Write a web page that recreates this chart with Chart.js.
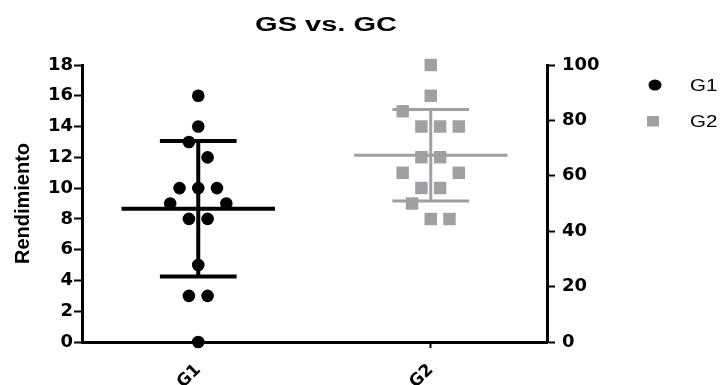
<!DOCTYPE html>
<html>
<head>
<meta charset="utf-8">
<script src="https://cdn.jsdelivr.net/npm/chart.js@4/dist/chart.umd.min.js"></script>
<style>
  html, body { margin:0; padding:0; background:#fff; }
  canvas { display:block; }
</style>
</head>
<body>
<canvas id="c" width="722" height="385"></canvas>
<script>
// data
const CATEGORIES = ["G1", "G2"];
const G1_VALUES = [16, 14, 13, 12, 10, 10, 10, 9, 9, 8, 8, 5, 3, 3, 0];
const G1_SPREAD = [0, 0, -0.5, 0.5, -1, 0, 1, -1.5, 1.5, -0.5, 0.5, 0, -0.5, 0.5, 0];
const G2_VALUES = [100, 88.9, 83.3, 77.8, 77.8, 77.8, 66.7, 66.7, 61.1, 61.1, 55.6, 55.6, 50, 44.4, 44.4];
const G2_SPREAD = [0, 0, -1.5, -0.5, 0.5, 1.5, -0.5, 0.5, -1.5, 1.5, -0.5, 0.5, -1, 0, 1];
const LEFT_TICKS = [0, 2, 4, 6, 8, 10, 12, 14, 16, 18];
const RIGHT_TICKS = [0, 20, 40, 60, 80, 100];

const BLACK = "#000";
const GRAY = "#a0a0a4";
const SANS = "'Liberation Sans', Arial, sans-serif";
const SLOT = 0.161;         // horizontal spacing of spread points, x units
const CAT_POS = [1, 3];      // category centres on the x scale

const mean = a => a.reduce((s, v) => s + v, 0) / a.length;
const sd = a => { const m = mean(a); return Math.sqrt(a.reduce((s, v) => s + (v - m) * (v - m), 0) / (a.length - 1)); };

const pts = (vals, spread, pos) => vals.map((v, i) => ({ x: pos + spread[i] * SLOT, y: v }));

const groups = [
  { vals: G1_VALUES, pos: CAT_POS[0], axis: "y", color: BLACK, lw: 4 },
  { vals: G2_VALUES, pos: CAT_POS[1], axis: "y2", color: GRAY, lw: 3 }
];

const errorBars = {
  id: "errorBars",
  beforeDatasetsDraw(chart) {
    const ctx = chart.ctx, xs = chart.scales.x;
    groups.forEach(g => {
      const ys = chart.scales[g.axis];
      const m = mean(g.vals), s = sd(g.vals);
      const xc = xs.getPixelForValue(g.pos);
      const yM = ys.getPixelForValue(m), yHi = ys.getPixelForValue(m + s), yLo = ys.getPixelForValue(m - s);
      ctx.save();
      ctx.strokeStyle = g.color; ctx.lineWidth = g.lw; ctx.lineCap = "butt";
      ctx.beginPath();
      ctx.moveTo(xs.getPixelForValue(g.pos - 0.66), yM); ctx.lineTo(xs.getPixelForValue(g.pos + 0.66), yM);
      ctx.moveTo(xc, yHi); ctx.lineTo(xc, yLo);
      ctx.moveTo(xs.getPixelForValue(g.pos - 0.33), yHi); ctx.lineTo(xs.getPixelForValue(g.pos + 0.33), yHi);
      ctx.moveTo(xs.getPixelForValue(g.pos - 0.33), yLo); ctx.lineTo(xs.getPixelForValue(g.pos + 0.33), yLo);
      ctx.stroke();
      ctx.restore();
    });
  }
};

// title and legend drawn by hand (text stretched like the source image)
const stretchText = (ctx, txt, x, y, font, sx, align) => {
  ctx.save();
  ctx.font = font; ctx.fillStyle = BLACK; ctx.textBaseline = "alphabetic"; ctx.textAlign = align;
  ctx.translate(x, y); ctx.scale(sx, 1);
  ctx.fillText(txt, 0, 0);
  ctx.restore();
};

const decorations = {
  id: "decorations",
  afterDraw(chart) {
    const ctx = chart.ctx;
    stretchText(ctx, "GS vs. GC", 326, 31, "bold 20px " + SANS, 1.45, "center");
    // legend
    ctx.save();
    ctx.fillStyle = BLACK;
    ctx.beginPath(); ctx.ellipse(655, 85, 6.5, 5.5, 0, 0, Math.PI * 2); ctx.fill();
    ctx.fillStyle = GRAY;
    ctx.fillRect(647, 116, 12, 10.5);
    ctx.restore();
    stretchText(ctx, chart.data.datasets[0].label, 690, 91, "16px " + SANS, 1.28, "left");
    stretchText(ctx, chart.data.datasets[1].label, 690, 127, "16px " + SANS, 1.28, "left");
  }
};

const tickFont = { family: "'DejaVu Sans'", size: 18, weight: "bold" };
const gridOpts = { drawOnChartArea: false, drawTicks: true, tickLength: 8, tickWidth: 2, tickColor: BLACK };
const borderOpts = { display: true, width: 3, color: BLACK };

new Chart(document.getElementById("c"), {
  type: "scatter",
  data: {
    datasets: [
      { label: CATEGORIES[0], data: pts(G1_VALUES, G1_SPREAD, CAT_POS[0]), yAxisID: "y",
        backgroundColor: BLACK, pointStyle: "circle", pointRadius: 6.3, borderWidth: 0, clip: false },
      { label: CATEGORIES[1], data: pts(G2_VALUES, G2_SPREAD, CAT_POS[1]), yAxisID: "y2",
        backgroundColor: GRAY, pointStyle: "rect", pointRadius: 8.8, borderWidth: 0, clip: false }
    ]
  },
  options: {
    responsive: false,
    animation: false,
    devicePixelRatio: 1,
    layout: { padding: { top: 65, left: 0, right: 0, bottom: 0 } },
    plugins: { legend: { display: false }, title: { display: false }, tooltip: { enabled: false } },
    scales: {
      x: {
        type: "linear", min: 0, max: 4,
        afterBuildTicks: s => { s.ticks = CAT_POS.map(v => ({ value: v })); },
        afterFit: s => { s.height = 43; },
        ticks: { font: { family: "'DejaVu Sans'", size: 17, weight: "bold" }, color: BLACK,
          minRotation: 45, maxRotation: 45, padding: 12,
          callback: v => CATEGORIES[CAT_POS.indexOf(v)] },
        grid: { drawOnChartArea: false, drawTicks: true, tickLength: 6, tickWidth: 2, tickColor: BLACK },
        border: borderOpts
      },
      y: {
        position: "left", min: 0, max: 18,
        afterBuildTicks: s => { s.ticks = LEFT_TICKS.map(v => ({ value: v })); },
        afterFit: s => { s.width = 82; },
        ticks: { font: tickFont, color: BLACK, padding: 1 },
        grid: gridOpts, border: borderOpts,
        title: { display: true, text: "Rendimiento", color: BLACK,
          font: { family: SANS, size: 20, weight: "bold" }, padding: { top: 11, bottom: 0 } }
      },
      y2: {
        position: "right", min: 0, max: 100,
        afterBuildTicks: s => { s.ticks = RIGHT_TICKS.map(v => ({ value: v })); },
        afterFit: s => { s.width = 175; },
        ticks: { font: tickFont, color: BLACK, padding: 7 },
        grid: gridOpts, border: borderOpts
      }
    }
  },
  plugins: [errorBars, decorations]
});
</script>
</body>
</html>
